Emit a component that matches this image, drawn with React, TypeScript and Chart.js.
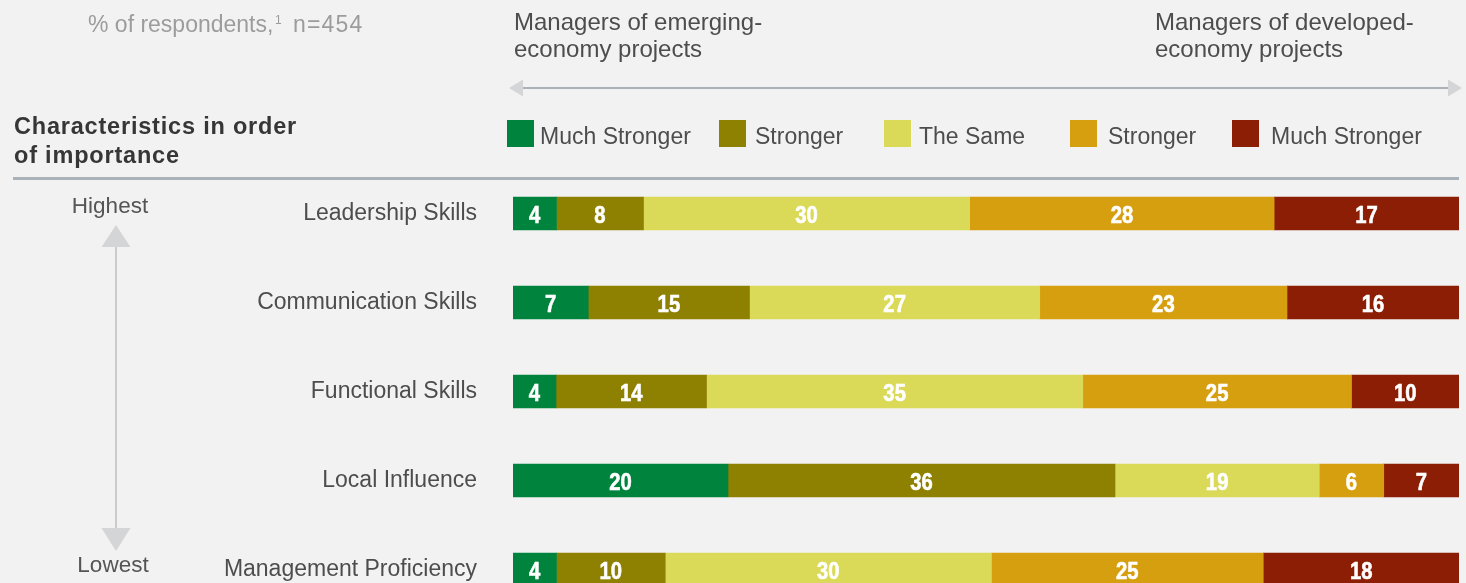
import React, { useEffect, useRef } from "react";
import { Chart, registerables } from "chart.js";

Chart.register(...registerables);

// ---------- data ----------
const categories = [
  "Leadership Skills",
  "Communication Skills",
  "Functional Skills",
  "Local Influence",
  "Management Proficiency",
];
const seriesNames = ["Much Stronger", "Stronger", "The Same", "Stronger", "Much Stronger"];
const emergingMuchStronger = [4, 7, 4, 20, 4];
const emergingStronger = [8, 15, 14, 36, 10];
const theSame = [30, 27, 35, 19, 30];
const developedStronger = [28, 23, 25, 6, 25];
const developedMuchStronger = [17, 16, 10, 7, 18];
const seriesColors = ["#00843D", "#8E8000", "#DADA58", "#D69F10", "#8B1E04"];

const subtitle = "% of respondents,";
const footnoteMark = "1";
const sampleText = "n=454";
const headingLines = ["Characteristics in order", "of importance"];
const leftHeader = ["Managers of emerging-", "economy projects"];
const rightHeader = ["Managers of developed-", "economy projects"];
const highLabel = "Highest";
const lowLabel = "Lowest";

const allSeries = [
  emergingMuchStronger,
  emergingStronger,
  theSame,
  developedStronger,
  developedMuchStronger,
];

const W = 1466;
const H = 620;
const SANS = '"Liberation Sans", Arial, sans-serif';

function drawHead(ctx: CanvasRenderingContext2D, pts: number[][], color: string) {
  ctx.beginPath();
  ctx.moveTo(pts[0][0], pts[0][1]);
  for (let i = 1; i < pts.length; i++) ctx.lineTo(pts[i][0], pts[i][1]);
  ctx.closePath();
  ctx.fillStyle = color;
  ctx.fill();
}

const decorPlugin = {
  id: "decor",
  beforeDraw(chart: any) {
    const ctx: CanvasRenderingContext2D = chart.ctx;
    ctx.save();
    ctx.fillStyle = "#F2F2F2";
    ctx.fillRect(0, 0, chart.width, chart.height);

    // subtitle
    ctx.textBaseline = "alphabetic";
    ctx.textAlign = "left";
    ctx.fillStyle = "#9C9C9C";
    ctx.font = `23px ${SANS}`;
    ctx.fillText(subtitle, 88, 32);
    ctx.font = `12px ${SANS}`;
    ctx.fillText(footnoteMark, 275, 24);
    ctx.font = `23px ${SANS}`;
    (ctx as any).letterSpacing = "1.2px";
    ctx.fillText(sampleText, 293, 32);
    (ctx as any).letterSpacing = "0px";

    // heading
    ctx.fillStyle = "#363636";
    ctx.font = `bold 23.5px ${SANS}`;
    (ctx as any).letterSpacing = "0.8px";
    ctx.fillText(headingLines[0], 14, 134);
    ctx.fillText(headingLines[1], 14, 163);
    (ctx as any).letterSpacing = "0px";

    // headers
    ctx.fillStyle = "#4D4D4D";
    ctx.font = `24px ${SANS}`;
    ctx.fillText(leftHeader[0], 514, 30);
    ctx.fillText(leftHeader[1], 514, 57);
    ctx.fillText(rightHeader[0], 1155, 30);
    ctx.fillText(rightHeader[1], 1155, 57);

    // horizontal double arrow
    ctx.strokeStyle = "#A9B1B9";
    ctx.lineWidth = 2;
    ctx.beginPath();
    ctx.moveTo(522, 88);
    ctx.lineTo(1449, 88);
    ctx.stroke();
    drawHead(ctx, [[509, 88], [523, 79.5], [523, 96.5]], "#D3D5D7");
    drawHead(ctx, [[1462, 88], [1448, 79.5], [1448, 96.5]], "#D3D5D7");

    // legend
    const legendSquares = [507, 719, 884, 1070, 1232];
    const legendText = [540, 755, 919, 1108, 1271];
    ctx.font = `23px ${SANS}`;
    seriesNames.forEach((name, i) => {
      const sx = legendSquares[i];
      ctx.fillStyle = seriesColors[i];
      ctx.fillRect(sx, 120, 27, 27);
      ctx.fillStyle = "#4D4D4D";
      ctx.fillText(name, legendText[i], 144);
    });

    // separator line
    ctx.strokeStyle = "#A9B1B9";
    ctx.lineWidth = 3;
    ctx.beginPath();
    ctx.moveTo(13, 178.5);
    ctx.lineTo(1459, 178.5);
    ctx.stroke();

    // vertical arrow
    ctx.strokeStyle = "#C9CBCD";
    ctx.lineWidth = 2;
    ctx.beginPath();
    ctx.moveTo(116, 246);
    ctx.lineTo(116, 529);
    ctx.stroke();
    drawHead(ctx, [[116, 225], [101.5, 247], [130.5, 247]], "#D3D5D7");
    drawHead(ctx, [[116, 551], [101.5, 528], [130.5, 528]], "#D3D5D7");

    ctx.fillStyle = "#555555";
    ctx.font = `22.5px ${SANS}`;
    ctx.textAlign = "center";
    ctx.fillText(highLabel, 110, 213);
    ctx.fillText(lowLabel, 113, 572);
    ctx.restore();
  },
};

const valueLabelPlugin = {
  id: "valueLabels",
  afterDatasetsDraw(chart: any) {
    const ctx: CanvasRenderingContext2D = chart.ctx;
    ctx.save();
    ctx.fillStyle = "#FFFFFF";
    ctx.strokeStyle = "#FFFFFF";
    ctx.lineWidth = 0.6;
    ctx.font = `bold 23px ${SANS}`;
    ctx.textAlign = "center";
    ctx.textBaseline = "alphabetic";
    chart.data.datasets.forEach((ds: any, di: number) => {
      const meta = chart.getDatasetMeta(di);
      meta.data.forEach((bar: any, i: number) => {
        const cx = (bar.x + bar.base) / 2;
        ctx.save();
        ctx.translate(cx, bar.y + 9.5);
        ctx.scale(0.88, 1);
        ctx.fillText(String(ds.raw[i]), 0, 0);
        ctx.strokeText(String(ds.raw[i]), 0, 0);
        ctx.restore();
      });
    });
    ctx.restore();
  },
};

export default function App() {
  const ref = useRef<HTMLCanvasElement | null>(null);
  useEffect(() => {
    if (!ref.current) return;
    const totals = categories.map((_, i) => allSeries.reduce((s, arr) => s + arr[i], 0));
    const chart = new Chart(ref.current, {
      type: "bar",
      data: {
        labels: categories,
        datasets: allSeries.map((arr, si) => ({
          label: seriesNames[si],
          data: arr.map((v, i) => (v / totals[i]) * 100),
          raw: arr,
          backgroundColor: seriesColors[si],
          borderWidth: 0,
          barThickness: 33,
        })) as any,
      },
      options: {
        indexAxis: "y",
        responsive: false,
        animation: false,
        layout: { padding: { top: 169, right: 7, bottom: 6, left: 0 } },
        plugins: { legend: { display: false }, tooltip: { enabled: false } },
        scales: {
          x: {
            stacked: true,
            min: 0,
            max: 100,
            display: false,
          },
          y: {
            stacked: true,
            grid: { display: false, drawTicks: false },
            border: { display: false },
            afterFit: (scale: any) => {
              scale.width = 513;
              scale.paddingTop = 0;
              scale.paddingBottom = 0;
            },
            ticks: {
              padding: 36,
              color: "#4D4D4D",
              font: { family: SANS, size: 23 },
            },
          },
        },
      },
      plugins: [decorPlugin, valueLabelPlugin],
    });
    return () => chart.destroy();
  }, []);

  return (
    <div
      style={{
        position: "fixed",
        left: 0,
        top: 0,
        width: W,
        height: 583,
        overflow: "hidden",
        background: "#F2F2F2",
      }}
    >
      <canvas ref={ref} width={W} height={H} style={{ display: "block", width: W, height: H }} />
    </div>
  );
}
